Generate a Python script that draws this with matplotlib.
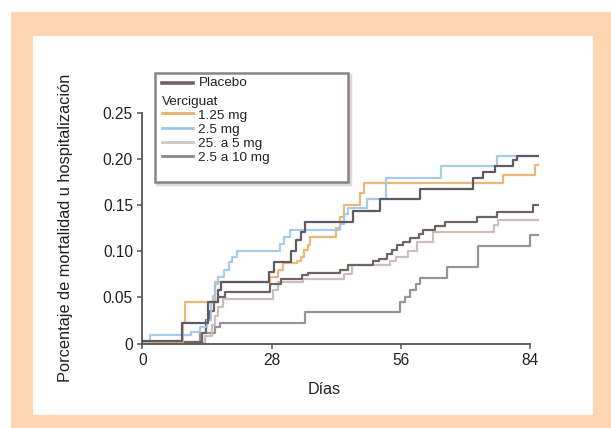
import matplotlib
matplotlib.use("Agg")
import matplotlib.pyplot as plt
from matplotlib.patches import Rectangle
from matplotlib.lines import Line2D

plt.rcParams['font.family'] = ['Liberation Sans', 'DejaVu Sans']

# ---------------- data (days, cumulative proportion) ----------------
placebo_days = [0, 8.5, 14.3, 16.3, 17.0, 27.5, 28.5, 32.3, 33.2, 34.3, 35.2, 45.6, 51.6, 60.2, 71.7, 73.9, 76.5, 80.3, 81.1, 86]
placebo_vals = [0.003, 0.022, 0.045, 0.058, 0.067, 0.078, 0.088, 0.100, 0.112, 0.121, 0.132, 0.144, 0.157, 0.168, 0.179, 0.186, 0.192, 0.199, 0.203, 0.203]

verc_days = [0, 12.9, 13.7, 14.7, 15.5, 16.5, 18.0, 27.6, 30.0, 34.5, 36.0, 42.8, 44.6, 50.0, 51.3, 53.0, 54.0, 55.1, 56.5, 58.0, 60.0, 60.9, 63.5, 65.5, 72.5, 76.8, 84.7, 86]
verc_vals = [0.002, 0.011, 0.025, 0.035, 0.045, 0.050, 0.056, 0.065, 0.070, 0.074, 0.076, 0.080, 0.085, 0.089, 0.092, 0.097, 0.101, 0.107, 0.110, 0.114, 0.119, 0.123, 0.127, 0.132, 0.137, 0.143, 0.150, 0.150]

d125_days = [0, 8.9, 9.3, 15.8, 27.6, 29.5, 30.5, 33.5, 34.3, 35.0, 35.8, 36.4, 42.0, 42.8, 43.8, 47.1, 48.0, 78.2, 85.1, 86]
d125_vals = [0.002, 0.022, 0.045, 0.067, 0.072, 0.080, 0.087, 0.090, 0.094, 0.101, 0.107, 0.116, 0.125, 0.137, 0.150, 0.163, 0.174, 0.183, 0.194, 0.194]

d25_days = [0, 1.7, 10.5, 12.5, 14.0, 14.8, 15.3, 15.8, 16.5, 17.6, 18.7, 19.5, 20.6, 29.8, 30.8, 32.0, 42.9, 43.8, 44.6, 48.6, 52.9, 64.8, 76.8, 86]
d25_vals = [0.002, 0.009, 0.013, 0.018, 0.026, 0.045, 0.052, 0.065, 0.072, 0.080, 0.088, 0.094, 0.100, 0.108, 0.115, 0.123, 0.130, 0.140, 0.147, 0.157, 0.179, 0.192, 0.203, 0.203]

d5_days = [0, 13.5, 15.0, 15.8, 16.5, 17.5, 28.3, 29.5, 34.8, 43.6, 45.5, 53.6, 55.0, 57.5, 59.5, 63.0, 76.1, 77.0, 86]
d5_vals = [0.001, 0.008, 0.020, 0.030, 0.040, 0.048, 0.058, 0.067, 0.070, 0.075, 0.085, 0.090, 0.094, 0.100, 0.110, 0.121, 0.128, 0.134, 0.134]

d10_days = [0, 12.5, 15.8, 16.8, 35.2, 55.8, 57.0, 58.0, 59.2, 60.2, 66.0, 72.8, 84.0, 86]
d10_vals = [0.001, 0.011, 0.018, 0.022, 0.0345, 0.045, 0.050, 0.058, 0.065, 0.071, 0.083, 0.106, 0.118, 0.118]

x_ticks = [0, 28, 56, 84]
y_ticks = [0, 0.05, 0.10, 0.15, 0.20, 0.25]
y_tick_labels = ['0', '0.05', '0.10', '0.15', '0.20', '0.25']
legend_labels = ['Placebo', 'Verciguat', '1.25 mg', '2.5 mg', '25. a 5 mg', '2.5 a 10 mg']

# ---------------- styling ----------------
W, H = 611, 428
c_placebo = '#5f5a64'
c_verc = '#6f6363'
c_125 = '#e9b16c'
c_25 = '#9fc6e6'
c_5 = '#c7b8b0'
c_10 = '#8d8989'

fig = plt.figure(figsize=(W / 100, H / 100), dpi=100, facecolor='white')

def fx(x):
    return x / W

def fy(y):
    return 1 - y / H

# background frame
fig.add_artist(Rectangle((fx(11), fy(428)), fx(611) - fx(11), fy(12) - fy(428),
                         transform=fig.transFigure, facecolor='#fdd5b1', edgecolor='none', zorder=-10))
fig.add_artist(Rectangle((fx(33), fy(415)), fx(593) - fx(33), fy(36) - fy(415),
                         transform=fig.transFigure, facecolor='white', edgecolor='none', zorder=-9))

x0, x1 = 142.3, 539.2
y0, y1 = 343.5, 113.0
ax = fig.add_axes([fx(x0), fy(y0), fx(x1) - fx(x0), fy(y1) - fy(y0)])
ax.set_facecolor('none')

lw = 1.6
ax.step(d10_days, d10_vals, where='post', color=c_10, lw=lw, alpha=0.9)
ax.step(d5_days, d5_vals, where='post', color=c_5, lw=lw, alpha=0.9)
ax.step(verc_days, verc_vals, where='post', color=c_verc, lw=lw)
ax.step(d125_days, d125_vals, where='post', color=c_125, lw=lw, alpha=0.9)
ax.step(d25_days, d25_vals, where='post', color=c_25, lw=lw, alpha=0.9)
ax.step(placebo_days, placebo_vals, where='post', color=c_placebo, lw=lw)

ax.set_xlim(0, 86)
ax.set_ylim(0, 0.25)
for s in ['top', 'right']:
    ax.spines[s].set_visible(False)
for s in ['left', 'bottom']:
    ax.spines[s].set_color('#555555')
    ax.spines[s].set_linewidth(1.3)
ax.spines['left'].set_bounds(0, 0.25)
ax.spines['bottom'].set_bounds(0, 84)
ax.set_xticks(x_ticks)
ax.set_yticks(y_ticks)
ax.set_yticklabels(y_tick_labels)
ax.tick_params(axis='both', direction='out', length=3.5, width=1.1, color='#555555',
               labelsize=11.2, labelcolor='#222222', pad=3.2)

ax.set_xlabel('Días', fontsize=11.6, color='#222222')
ax.xaxis.set_label_coords((324 - x0) / (x1 - x0), (y0 - 382) / (y0 - y1))
ax.set_ylabel('Porcentaje de mortalidad u hospitalización', fontsize=11.8, color='#222222')
ax.yaxis.set_label_coords((73 - x0) / (x1 - x0), (y0 - 228) / (y0 - y1))

# ---------------- legend (manual layout) ----------------
fig.add_artist(Rectangle((fx(157), fy(183.5)), fx(349.5) - fx(157), fy(74.5) - fy(183.5),
                         transform=fig.transFigure, facecolor='none', edgecolor='#dddada',
                         lw=2.5, zorder=5))
fig.add_artist(Rectangle((fx(155), fy(181.7)), fx(348) - fx(155), fy(72.7) - fy(181.7),
                         transform=fig.transFigure, facecolor='white', edgecolor='#8c8282',
                         lw=1.8, zorder=6))

handles = [
    (legend_labels[0], c_verc, 83.0, 82.5, 199),
    (legend_labels[2], c_125, 113.0, 115.5, 198),
    (legend_labels[3], c_25, 128.0, 130.0, 198),
    (legend_labels[4], '#d3c8c1', 142.0, 144.0, 198),
    (legend_labels[5], c_10, 156.0, 158.0, 198),
]
for lab, col, ly, ty, tx in handles:
    fig.add_artist(Line2D([fx(162), fx(193)], [fy(ly), fy(ly)], transform=fig.transFigure,
                          color=col, lw=2.6 if lab == 'Placebo' else 2.0, zorder=7))
    fig.text(fx(tx), fy(ty), lab, fontsize=9.7, color='#222222', ha='left', va='center', zorder=8)
fig.text(fx(162), fy(101.5), legend_labels[1], fontsize=9.7, color='#222222',
         ha='left', va='center', zorder=8)

fig.savefig('out.png', dpi=100, facecolor='white')
